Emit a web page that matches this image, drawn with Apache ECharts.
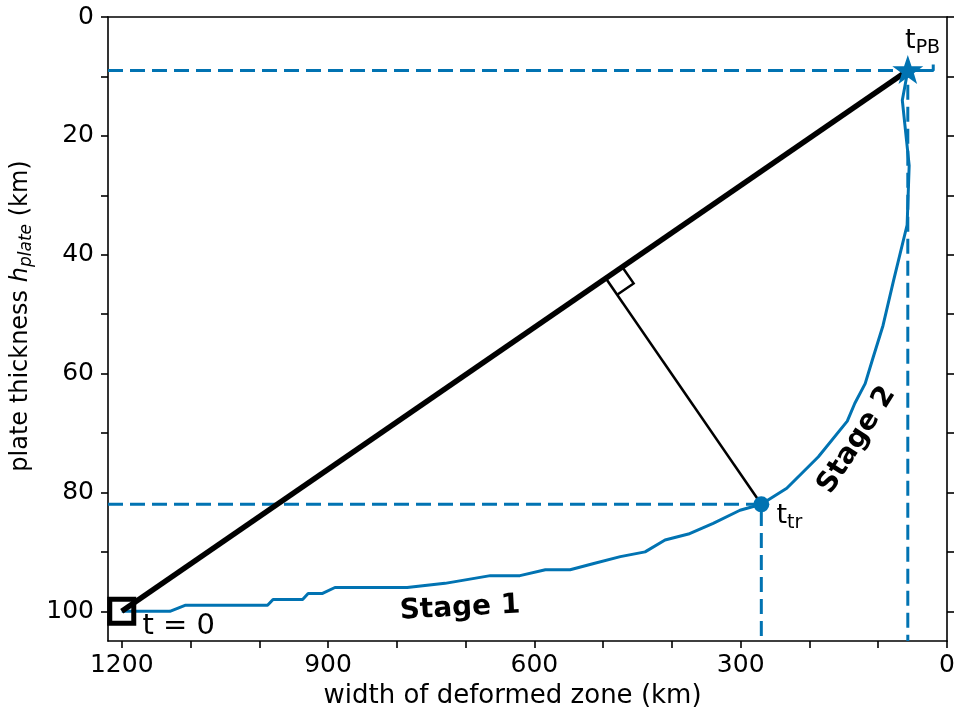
<!DOCTYPE html>
<html>
<head>
<meta charset="utf-8">
<script src="https://cdn.jsdelivr.net/npm/echarts@6/dist/echarts.min.js"></script>
<style>
  html, body { margin: 0; padding: 0; background: #fff; }
  #chart { width: 963px; height: 721px; }
</style>
</head>
<body>
<div id="chart"></div>
<script>
// 변형대 폭(km)과 판 두께(km) 경로
const widthKm = [1200, 1130, 1108, 988, 980, 937, 929, 908, 890, 785, 730, 664, 621, 584, 548, 515, 475, 439, 410, 376, 340, 301, 270, 233, 187, 145, 134, 119, 108, 93, 78, 58, 55, 65, 57, 20, 20];
const thickKm = [100, 100, 99, 99, 98, 98, 97, 97, 96, 96, 95.3, 94, 94, 93, 93, 92, 90.8, 90, 88, 87, 85.2, 83, 82, 79.3, 74, 68, 65, 61.7, 57.5, 51.9, 44.5, 35, 25, 14, 9, 9, 8];

// 주요 시점
const t0 = [1200, 100];
const tTR = [270, 82];
const tPB = [57, 9];

// 축 범위 / 눈금
const xMax = 1220;
const yMax = 105;
const xTicks = [0, 100, 200, 300, 400, 500, 600, 700, 800, 900, 1000, 1100, 1200];
const xLabels = [0, 300, 600, 900, 1200];
const yTicks = [0, 10, 20, 30, 40, 50, 60, 70, 80, 90, 100];
const yLabels = [0, 20, 40, 60, 80, 100];

// 주석 텍스트
const noteText = ['Stage 1', 'Stage 2', 't = 0', '{t|t}{s|PB}', '{t|t}{s|tr}'];
const noteX = [708, 131, 1170, 61, 248];
const noteY = [99.5, 71.2, 102.6, 4.0, 84.0];

const BLUE = '#0173b2';
const FONT = 'DejaVu Sans';

const curve = widthKm.map((w, i) => [w, thickKm[i]]);

const STAR = 'path://M50,0 L61.8,35.1 L98.9,35.1 L69.1,57.3 L79.4,90.5 L50,69.1 L20.6,90.5 L30.9,57.3 L1.1,35.1 L38.2,35.1 Z';

const axisLineStyle = { color: '#000', width: 1.6 };

const chart = echarts.init(document.getElementById('chart'));

const option = {
  animation: false,
  backgroundColor: '#fff',
  grid: { left: 108, right: 16, top: 17, bottom: 80 },
  xAxis: [
    {
      type: 'value', min: 0, max: xMax, inverse: true, position: 'bottom',
      axisLine: { show: true, onZero: false, lineStyle: axisLineStyle },
      axisTick: { show: true, length: 7, lineStyle: axisLineStyle, customValues: xTicks },
      axisLabel: { customValues: xLabels, fontSize: 25, color: '#000', margin: 12, fontFamily: FONT, formatter: v => String(v) },
      splitLine: { show: false },
      name: 'width of deformed zone (km)',
      nameLocation: 'middle', nameGap: 42,
      nameTextStyle: { fontSize: 26, color: '#000', fontFamily: FONT, padding: [0, 30, 0, 0] }
    },
    {
      type: 'value', min: 0, max: xMax, inverse: true, position: 'top',
      axisLine: { show: true, onZero: false, lineStyle: axisLineStyle },
      axisTick: { show: false }, axisLabel: { show: false }, splitLine: { show: false }
    }
  ],
  yAxis: [
    {
      type: 'value', min: 0, max: yMax, inverse: true, position: 'left',
      axisLine: { show: true, onZero: false, lineStyle: axisLineStyle },
      axisTick: { show: true, length: 7, lineStyle: axisLineStyle, customValues: yTicks },
      axisLabel: { customValues: yLabels, fontSize: 25, color: '#000', margin: 14, fontFamily: FONT, formatter: v => String(v) },
      splitLine: { show: false },
      name: 'plate thickness {i|h}{s|plate} (km)',
      nameLocation: 'middle', nameGap: 70,
      nameTextStyle: {
        fontSize: 24, color: '#000', fontFamily: FONT, padding: [0, 0, 0, 26],
        rich: {
          i: { fontSize: 24, fontStyle: 'italic', fontFamily: FONT, color: '#000' },
          s: { fontSize: 17, fontStyle: 'italic', fontFamily: FONT, color: '#000', padding: [12, 0, 0, 0] }
        }
      }
    },
    {
      type: 'value', min: 0, max: yMax, inverse: true, position: 'right',
      axisLine: { show: true, onZero: false, lineStyle: axisLineStyle },
      axisTick: { show: true, length: 7, lineStyle: axisLineStyle, customValues: yTicks },
      axisLabel: { show: false }, splitLine: { show: false }
    }
  ],
  series: [
    {
      name: 'tPB guide', type: 'line', symbol: 'none', z: 1,
      data: [[xMax, tPB[1]], tPB, [tPB[0], yMax]],
      lineStyle: { color: BLUE, width: 3, type: [15, 7] }
    },
    {
      name: 'tTR guide', type: 'line', symbol: 'none', z: 1,
      data: [[xMax, tTR[1]], tTR, [tTR[0], yMax]],
      lineStyle: { color: BLUE, width: 3, type: [15, 7] }
    },
    {
      name: 'path', type: 'line', symbol: 'none', z: 3,
      data: curve,
      lineStyle: { color: BLUE, width: 3 }
    },
    {
      name: 'chord', type: 'line', symbol: 'none', z: 4,
      data: [t0, tPB],
      lineStyle: { color: '#000', width: 5.5 }
    },
    {
      // t_tr 에서 직선으로 내린 수선 + 직각 표시
      name: 'normal', type: 'custom', z: 4,
      data: [tTR],
      renderItem: function (params, api) {
        const a = api.coord(t0), b = api.coord(tPB), p = api.coord(tTR);
        const dx = b[0] - a[0], dy = b[1] - a[1];
        const len = Math.hypot(dx, dy);
        const ux = dx / len, uy = dy / len;
        const s = (p[0] - a[0]) * ux + (p[1] - a[1]) * uy;
        const f = [a[0] + ux * s, a[1] + uy * s];
        const nl = Math.hypot(p[0] - f[0], p[1] - f[1]);
        const vx = (p[0] - f[0]) / nl, vy = (p[1] - f[1]) / nl;
        const m = 20;
        return {
          type: 'group',
          children: [
            { type: 'line', shape: { x1: f[0], y1: f[1], x2: p[0], y2: p[1] }, style: { stroke: '#000', lineWidth: 2.5 } },
            {
              type: 'polyline',
              shape: { points: [[f[0] + ux * m, f[1] + uy * m], [f[0] + ux * m + vx * m, f[1] + uy * m + vy * m], [f[0] + vx * m, f[1] + vy * m]] },
              style: { stroke: '#000', fill: null, lineWidth: 2.5 }
            }
          ]
        };
      }
    },
    {
      name: 't0', type: 'scatter', z: 6,
      data: [t0], symbol: 'rect', symbolSize: 24,
      itemStyle: { color: 'rgba(0,0,0,0)', borderColor: '#000', borderWidth: 5, opacity: 1 }
    },
    {
      name: 'ttr', type: 'scatter', z: 6,
      data: [tTR], symbol: 'circle', symbolSize: 16,
      itemStyle: { color: BLUE, opacity: 1 }
    },
    {
      name: 'tpb', type: 'scatter', z: 6,
      data: [tPB], symbol: STAR, symbolSize: [31, 29], symbolOffset: [0, -1],
      itemStyle: { color: BLUE, opacity: 1 }
    },
    {
      name: 'notes', type: 'custom', z: 7,
      data: noteX.map((x, i) => [x, noteY[i], i]),
      renderItem: function (params, api) {
        const i = api.value(2);
        const pt = api.coord([api.value(0), api.value(1)]);
        const bold = i < 2;
        const rot = i === 0 ? 3 : (i === 1 ? 57.5 : 0);
        const size = bold ? 28 : (i === 2 ? 29 : 27);
        return {
          type: 'text', x: pt[0], y: pt[1], rotation: rot * Math.PI / 180,
          style: {
            text: noteText[i],
            fontFamily: FONT, fontSize: size, fontWeight: bold ? 'bold' : 'normal', fill: '#000',
            align: bold ? 'center' : 'left', verticalAlign: 'middle',
            rich: {
              t: { fontSize: 27, fontFamily: FONT, fill: '#000' },
              s: { fontSize: 19, fontFamily: FONT, fill: '#000', padding: [14, 0, 0, 0] }
            }
          }
        };
      }
    }
  ]
};

chart.setOption(option);
</script>
</body>
</html>
